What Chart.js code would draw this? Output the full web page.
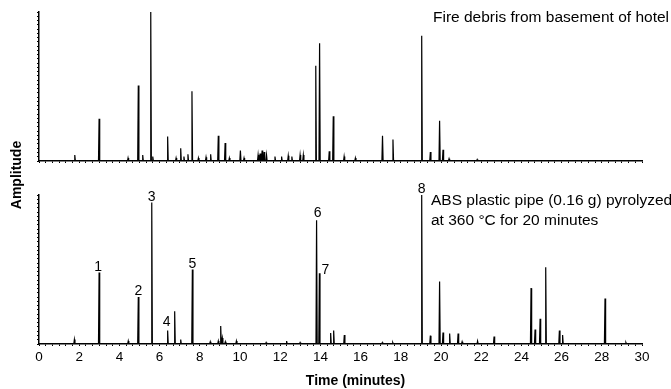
<!DOCTYPE html>
<html>
<head>
<meta charset="utf-8">
<script src="https://cdn.jsdelivr.net/npm/chart.js@4.4.0/dist/chart.umd.min.js"></script>
<style>
  body { margin: 0; background: #fff; }
  #wrap { position: relative; width: 671px; height: 389px; }
  canvas { position: absolute; left: 0; }
  #ylabel {
    position: absolute; left: -34px; top: 167px; width: 100px; height: 16px;
    line-height: 16px; text-align: center; transform: rotate(-90deg);
    font: bold 14px Arial, 'Liberation Sans', sans-serif; color: #000;
  }
</style>
</head>
<body>
<div id="wrap">
  <canvas id="topChart" width="671" height="170" style="top:0"></canvas>
  <canvas id="bottomChart" width="671" height="219" style="top:170px"></canvas>
  <div id="ylabel">Amplitude</div>
</div>
<script>
// fire debris trace: retention time (min) and relative height of each peak
const debrisTimes = [1.78, 2.99, 4.43, 4.94, 5.16, 5.56, 5.66, 6.40, 6.82, 7.05, 7.21, 7.41, 7.61, 7.93,
  8.31, 8.54, 8.92, 9.26, 9.47, 10.02, 10.2, 10.9, 11.0, 11.1, 11.2, 11.32, 11.74, 12.07, 12.4, 12.58,
  12.99, 13.15, 13.77, 13.96, 14.44, 14.64, 15.18, 15.74, 17.09, 17.61, 19.04, 19.47, 19.93, 20.1, 20.4, 21.8];
const debrisHeights = [0.04, 0.283, 0.02, 0.506, 0.04, 1.0, 0.03, 0.165, 0.02, 0.085, 0.03, 0.045, 0.468, 0.02,
  0.025, 0.045, 0.17, 0.12, 0.02, 0.07, 0.02, 0.04, 0.05, 0.07, 0.06, 0.04, 0.03, 0.03, 0.035, 0.03,
  0.04, 0.04, 0.64, 0.79, 0.065, 0.30, 0.03, 0.02, 0.17, 0.145, 0.84, 0.06, 0.27, 0.075, 0.015, 0.01];

// ABS pyrolysis trace
const absTimes = [1.76, 2.99, 4.44, 4.94, 5.61, 6.40, 6.75, 7.05, 7.63, 8.52, 8.92, 9.04, 9.12, 9.27, 9.82,
  11.3, 12.32, 12.99, 13.81, 13.95, 14.51, 14.66, 15.19, 17.08, 17.6, 19.04, 19.47, 19.93, 20.1, 20.43,
  20.85, 21.05, 21.82, 22.64, 24.48, 24.68, 24.93, 25.21, 25.89, 26.05, 28.16, 29.2];
const absHeights = [0.03, 0.48, 0.02, 0.315, 0.95, 0.09, 0.22, 0.03, 0.50, 0.015, 0.02, 0.12, 0.04, 0.015, 0.02,
  0.01, 0.02, 0.01, 0.83, 0.475, 0.074, 0.09, 0.06, 0.01, 0.01, 1.0, 0.056, 0.42, 0.077, 0.07,
  0.07, 0.015, 0.02, 0.05, 0.375, 0.097, 0.17, 0.515, 0.09, 0.06, 0.305, 0.01];

// numbered peaks in the ABS trace
const peakNames = ['1', '2', '3', '4', '5', '6', '7', '8'];
const peakTimes = [2.99, 4.94, 5.61, 6.40, 7.63, 13.81, 13.95, 19.04];
const peakHeights = [0.48, 0.315, 0.95, 0.09, 0.50, 0.83, 0.475, 1.0];

const tickLabels = [0, 2, 4, 6, 8, 10, 12, 14, 16, 18, 20, 22, 24, 26, 28, 30];
const xTitle = 'Time (minutes)';

const topCaption = ['Fire debris from basement of hotel'];
const bottomCaption = ['ABS plastic pipe (0.16 g) pyrolyzed', 'at 360 \u00B0C for 20 minutes'];

// label nudges in px (dx, dy)
const peakNudge = [[-1, -1], [0, -2], [0, -1], [-1, -5], [0, -2], [1, -3], [6, 1], [0, -2]];

const FONT = "Arial, 'Liberation Sans', sans-serif";
const halfWidth = 0.03;

function buildTrace(times, heights) {
  const pts = [{x: 0, y: 0}, {x: 30, y: 0}];
  times.forEach((t, i) => {
    pts.push({x: t - halfWidth, y: 0}, {x: t, y: heights[i]}, {x: t + halfWidth, y: 0});
  });
  return pts.sort((a, b) => a.x - b.x);
}

function captionPlugin(lines, x, y0, lineGap) {
  return {
    id: 'caption',
    afterDraw(chart) {
      const ctx = chart.ctx;
      ctx.save();
      ctx.font = '15.5px ' + FONT;
      ctx.fillStyle = '#000';
      ctx.textAlign = 'left';
      ctx.textBaseline = 'alphabetic';
      lines.forEach((ln, i) => ctx.fillText(ln, x, y0 + i * lineGap));
      ctx.restore();
    }
  };
}

// x axis title sits a bit right of the plot centre in the original
const xTitlePlugin = {
  id: 'xTitle',
  afterDraw(chart) {
    const {ctx, chartArea} = chart;
    ctx.save();
    ctx.font = 'bold 14px ' + FONT;
    ctx.fillStyle = '#000';
    ctx.textAlign = 'center';
    ctx.textBaseline = 'middle';
    ctx.fillText(xTitle, (chartArea.left + chartArea.right) / 2 + 15, chartArea.bottom + 37);
    ctx.restore();
  }
};

const peakLabelPlugin = {
  id: 'peakLabels',
  afterDatasetsDraw(chart) {
    const {ctx, scales: {x, y}} = chart;
    ctx.save();
    ctx.font = '14px ' + FONT;
    ctx.fillStyle = '#000';
    ctx.textAlign = 'center';
    ctx.textBaseline = 'alphabetic';
    peakNames.forEach((name, i) => {
      const px = x.getPixelForValue(peakTimes[i]) + peakNudge[i][0];
      const py = y.getPixelForValue(peakHeights[i]) + peakNudge[i][1];
      ctx.fillText(name, px, py);
    });
    ctx.restore();
  }
};

function makeOptions(padTop, xHeight, showLabels) {
  return {
    responsive: false,
    animation: false,
    layout: { padding: { top: padTop, right: 29, left: 0, bottom: 0 } },
    plugins: { legend: { display: false }, tooltip: { enabled: false } },
    scales: {
      x: {
        type: 'linear', min: 0, max: 30,
        afterFit: s => { s.height = xHeight; },
        border: { color: '#000', width: 1.5 },
        grid: { drawOnChartArea: false, tickLength: 2, color: '#000' },
        ticks: {
          display: showLabels, stepSize: 1 / 3, autoSkip: false, maxRotation: 0,
          padding: 3, color: '#000', font: { family: FONT, size: 13.5 },
          callback: v => {
            const hit = tickLabels.find(t => Math.abs(t - v) < 1e-6);
            return hit === undefined ? '' : String(hit);
          }
        }
      },
      y: {
        min: 0, max: 1,
        afterFit: s => { s.width = 39; },
        border: { color: '#000', width: 1.5 },
        grid: { drawOnChartArea: false, tickLength: 2, color: '#000' },
        ticks: { display: false, stepSize: 1 / 35 }
      }
    }
  };
}

function traceDataset(times, heights) {
  return {
    data: buildTrace(times, heights),
    borderColor: '#000',
    borderWidth: 1.2,
    pointRadius: 0,
    tension: 0,
    fill: false
  };
}

new Chart(document.getElementById('topChart'), {
  type: 'line',
  data: { datasets: [traceDataset(debrisTimes, debrisHeights)] },
  options: makeOptions(12, 9, false),
  plugins: [captionPlugin(topCaption, 433, 22, 20)]
});

new Chart(document.getElementById('bottomChart'), {
  type: 'line',
  data: { datasets: [traceDataset(absTimes, absHeights)] },
  options: makeOptions(25, 45, true),
  plugins: [peakLabelPlugin, xTitlePlugin, captionPlugin(bottomCaption, 431, 35, 20)]
});
</script>
</body>
</html>
